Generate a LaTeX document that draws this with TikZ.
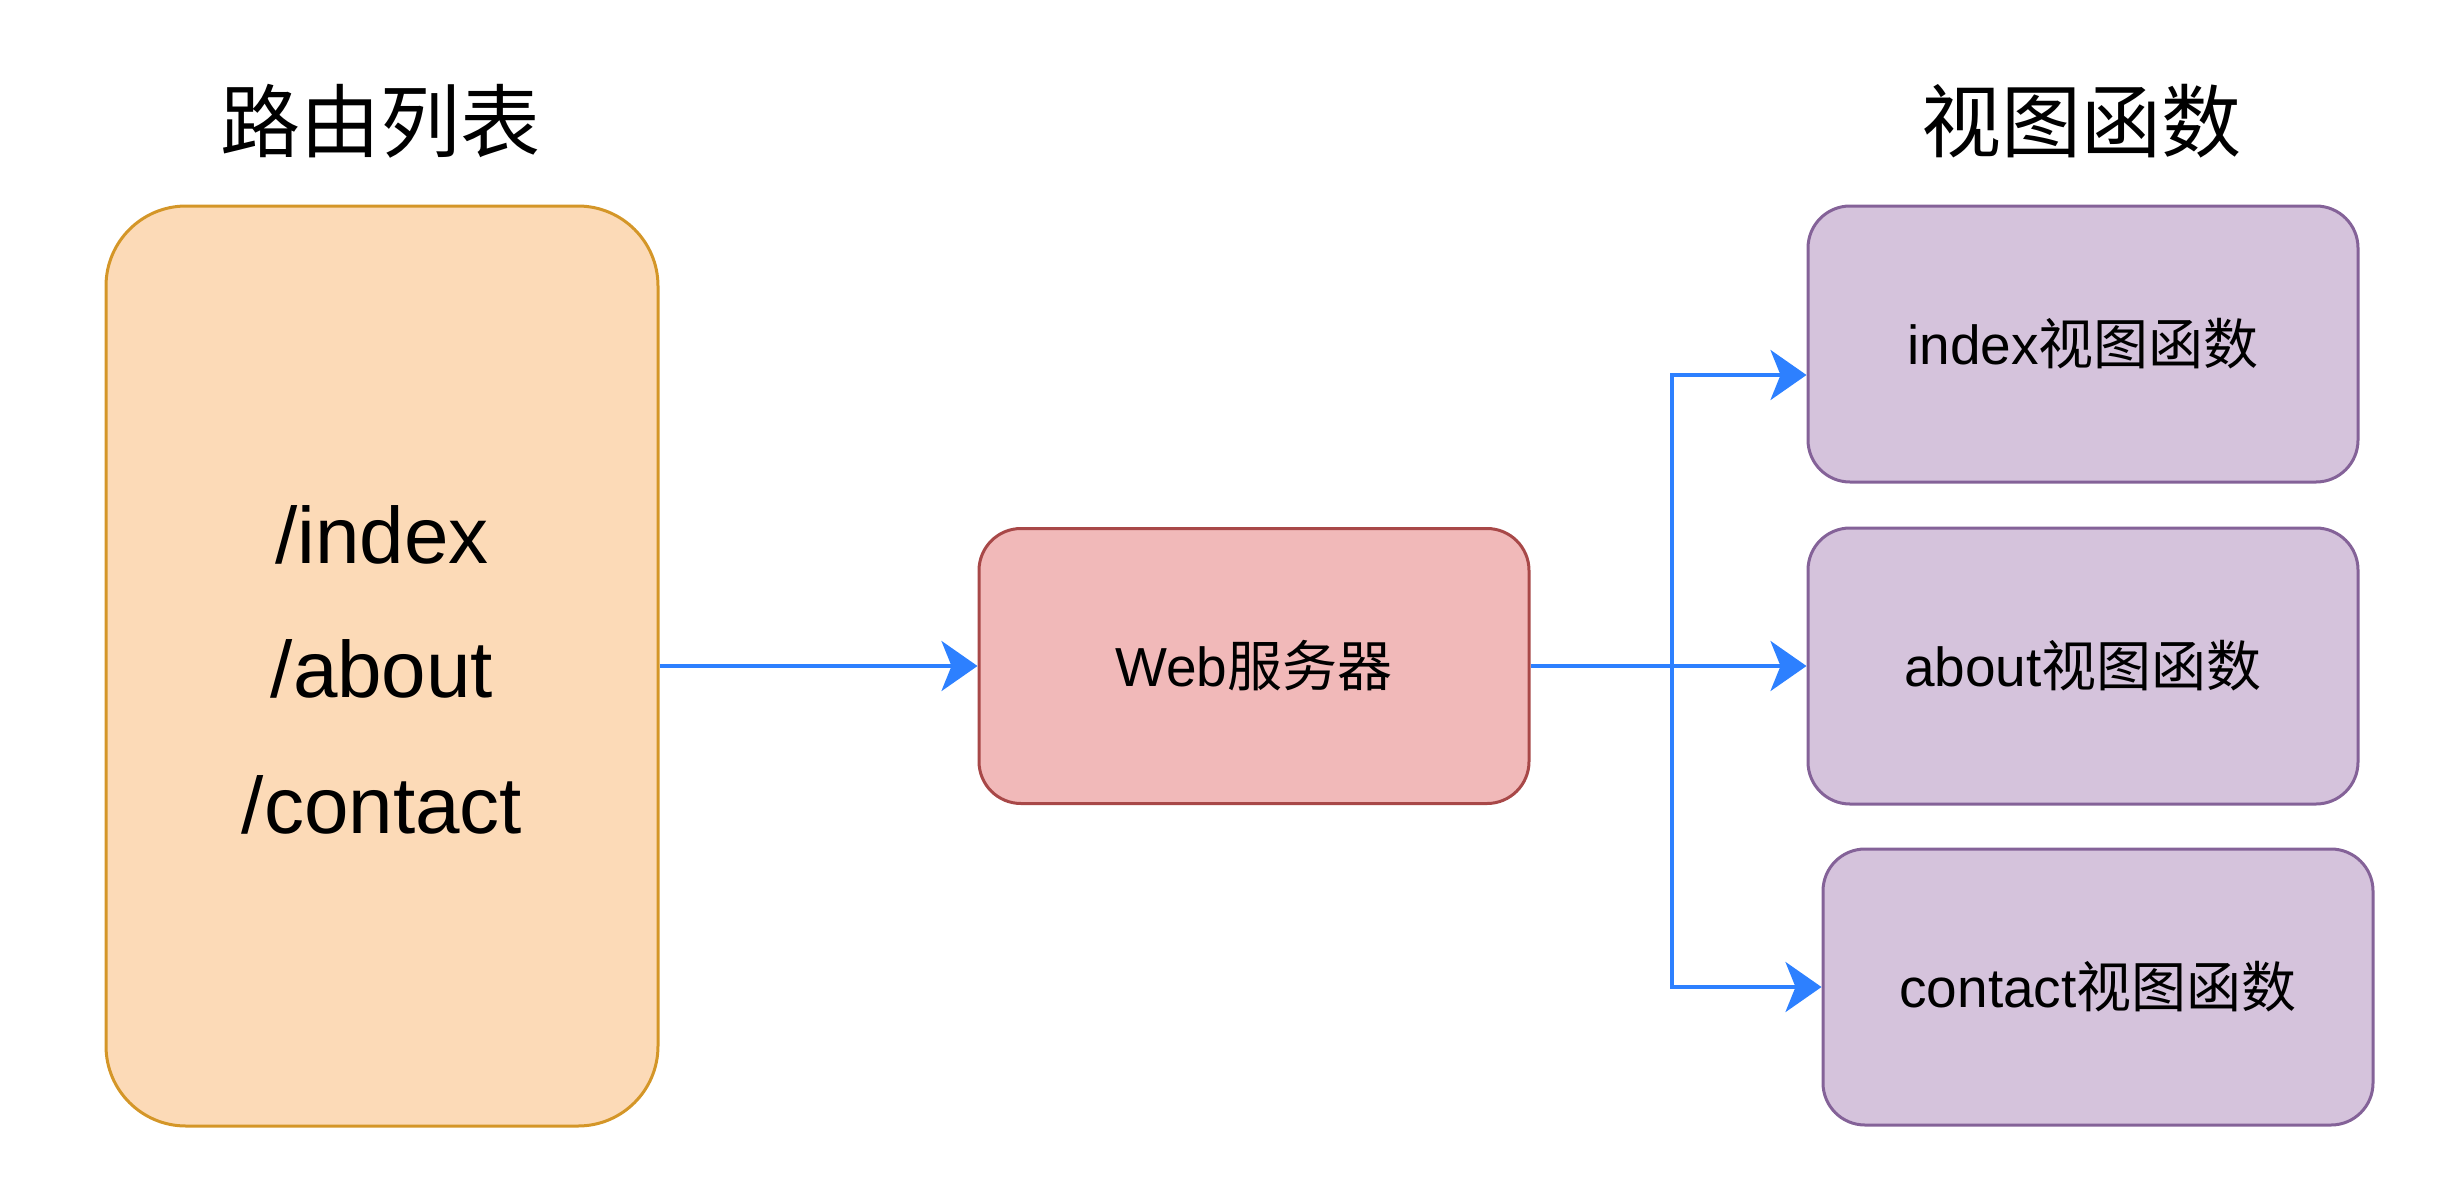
\documentclass[tikz,border=0pt]{standalone}
\usepackage{fontspec}
\setmainfont{Liberation Sans}
\newfontfamily\cjk{Noto Sans CJK SC}
\usetikzlibrary{arrows.meta,calc}
\definecolor{orfill}{RGB}{252,218,183}
\definecolor{ordraw}{RGB}{212,150,40}
\definecolor{rdfill}{RGB}{241,185,185}
\definecolor{rddraw}{RGB}{168,72,72}
\definecolor{pufill}{RGB}{213,195,220}
\definecolor{pudraw}{RGB}{132,98,152}
\definecolor{arrblue}{RGB}{45,128,255}
\tikzset{
  routebox/.style={draw=ordraw,fill=orfill,line width=3pt,rounded corners=80pt,
    minimum width=552pt,minimum height=920pt,inner sep=0pt,align=center},
  webbox/.style={draw=rddraw,fill=rdfill,line width=3pt,rounded corners=42pt,
    minimum width=550pt,minimum height=275pt,inner sep=0pt},
  viewbox/.style={draw=pudraw,fill=pufill,line width=3pt,rounded corners=42pt,
    minimum width=550pt,minimum height=276pt,inner sep=0pt},
  title/.style={font=\cjk\fontsize{80pt}{90pt}\selectfont,inner sep=0pt},
  boxtext/.style={font=\fontsize{55pt}{60pt}\selectfont},
  routetext/.style={font=\fontsize{80pt}{96pt}\selectfont},
  link/.style={draw=arrblue,line width=4pt,-{Stealth[length=36pt,width=50pt,inset=10pt]}},
  plainlink/.style={draw=arrblue,line width=4pt}
}
\begin{document}
\begin{tikzpicture}[x=1pt,y=-1pt]
\useasboundingbox (0,0) rectangle (2452,1176);
\node[title] (t1) at (380,121) {路由列表};
\node[title] (t2) at (2081,121) {视图函数};
\node[routebox] (routes) at (382,666) {};
\node[routetext] (r1) at (382,535) {/index};
\node[routetext] (r2) at (382,669) {/about};
\node[routetext] (r3) at (382,805) {/contact};
\node[webbox,boxtext] (web) at (1254,666) {Web{\cjk 服务器}};
\node[viewbox,boxtext] (v1) at (2083,344) {index{\cjk 视图函数}};
\node[viewbox,boxtext] (v2) at (2083,666) {about{\cjk 视图函数}};
\node[viewbox,boxtext] (v3) at (2098,987) {contact{\cjk 视图函数}};
\coordinate (br) at (1672,666);
\draw[link] (routes.east) -- (web.west);
\draw[plainlink] (web.east) -- (br);
\draw[link] (br) |- ([yshift=-31pt]v1.west);
\draw[link] (br) -- (v2.west);
\draw[link] (br) |- (v3.west);
\end{tikzpicture}
\end{document}
